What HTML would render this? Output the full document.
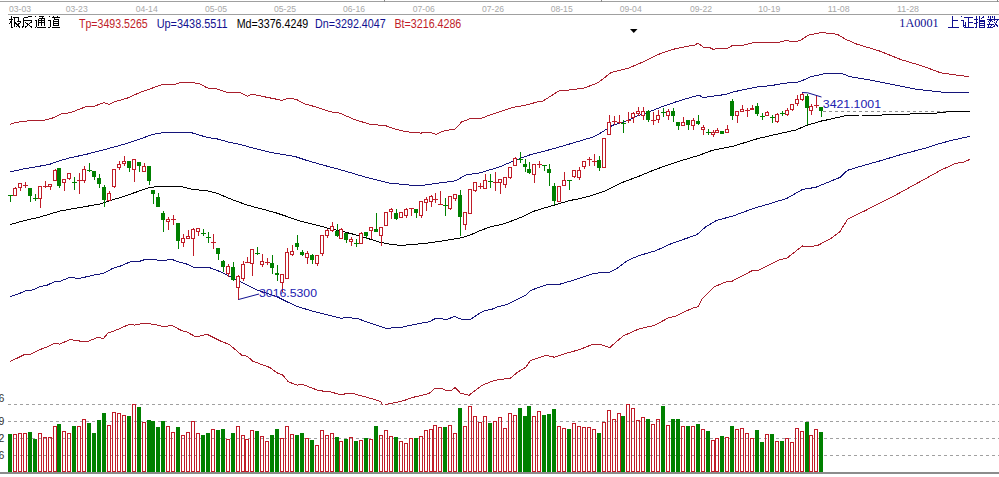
<!DOCTYPE html>
<html><head><meta charset="utf-8"><style>
html,body{margin:0;padding:0;background:#fff;width:999px;height:477px;overflow:hidden}
svg{display:block}
</style></head><body>
<svg width="999" height="477" viewBox="0 0 999 477"><defs><clipPath id="main"><rect x="0" y="15" width="999" height="390"/></clipPath></defs><rect width="999" height="477" fill="#fff"/><g shape-rendering="crispEdges"><rect x="0" y="1" width="999" height="1" fill="#a0a0a0"/><rect x="8" y="14" width="991" height="1" fill="#a0a0a0"/><rect x="384" y="0" width="1" height="2" fill="#888"/><rect x="601" y="0" width="1" height="2" fill="#888"/><rect x="997" y="0" width="1" height="2" fill="#888"/></g><g font-family="Liberation Sans, sans-serif" font-size="9.5" fill="#a8a8a8"><text x="9" y="11.6" textLength="22" lengthAdjust="spacingAndGlyphs">03-03</text><text x="65.7" y="11.6" textLength="22" lengthAdjust="spacingAndGlyphs">03-23</text><text x="135.7" y="11.6" textLength="22" lengthAdjust="spacingAndGlyphs">04-14</text><text x="205" y="11.6" textLength="22" lengthAdjust="spacingAndGlyphs">05-05</text><text x="274" y="11.6" textLength="22" lengthAdjust="spacingAndGlyphs">05-25</text><text x="343" y="11.6" textLength="22" lengthAdjust="spacingAndGlyphs">06-16</text><text x="412.8" y="11.6" textLength="22" lengthAdjust="spacingAndGlyphs">07-06</text><text x="482" y="11.6" textLength="22" lengthAdjust="spacingAndGlyphs">07-26</text><text x="550.7" y="11.6" textLength="22" lengthAdjust="spacingAndGlyphs">08-15</text><text x="619.7" y="11.6" textLength="22" lengthAdjust="spacingAndGlyphs">09-04</text><text x="690" y="11.6" textLength="22" lengthAdjust="spacingAndGlyphs">09-22</text><text x="758.3" y="11.6" textLength="22" lengthAdjust="spacingAndGlyphs">10-19</text><text x="827.7" y="11.6" textLength="22" lengthAdjust="spacingAndGlyphs">11-08</text><text x="897" y="11.6" textLength="22" lengthAdjust="spacingAndGlyphs">11-28</text></g><g font-family="Liberation Sans, sans-serif" font-size="12"><text x="79" y="27.8" fill="#c01c28" textLength="68.7" lengthAdjust="spacingAndGlyphs">Tp=3493.5265</text><text x="156.7" y="27.8" fill="#101090" textLength="71.0" lengthAdjust="spacingAndGlyphs">Up=3438.5511</text><text x="236.7" y="27.8" fill="#000000" textLength="71.6" lengthAdjust="spacingAndGlyphs">Md=3376.4249</text><text x="315" y="27.8" fill="#101090" textLength="70.7" lengthAdjust="spacingAndGlyphs">Dn=3292.4047</text><text x="394.5" y="27.8" fill="#c01c28" textLength="66.8" lengthAdjust="spacingAndGlyphs">Bt=3216.4286</text></g><text x="899.3" y="26.8" font-family="Liberation Serif, serif" font-size="12.5" fill="#101090" textLength="39.3" lengthAdjust="spacingAndGlyphs">1A0001</text><path d="M630,29 L637.5,29 L633.75,33 Z" fill="#000"/><g shape-rendering="crispEdges" stroke="#a0a0a0" stroke-width="1" stroke-dasharray="3,3"><line x1="8" y1="404.5" x2="999" y2="404.5"/><line x1="8" y1="421.5" x2="999" y2="421.5"/><line x1="8" y1="438.5" x2="999" y2="438.5"/><line x1="8" y1="455.5" x2="999" y2="455.5"/></g><g font-family="Liberation Sans, sans-serif" font-size="10.5" fill="#303030"><text x="-1.5" y="401.5">6</text><text x="-1.5" y="424.5">9</text><text x="-1.5" y="441.5">2</text><text x="-1.5" y="458.5">6</text></g><g shape-rendering="crispEdges"><rect x="8" y="434" width="4" height="38" fill="#008000"/><rect x="13.5" y="434.5" width="3" height="37" fill="none" stroke="#c01c28" stroke-width="1"/><rect x="18.5" y="433.5" width="3" height="38" fill="none" stroke="#c01c28" stroke-width="1"/><rect x="23.5" y="433.5" width="3" height="38" fill="none" stroke="#c01c28" stroke-width="1"/><rect x="28" y="432" width="4" height="40" fill="#008000"/><rect x="33" y="439" width="4" height="33" fill="#008000"/><rect x="38.5" y="433.5" width="3" height="38" fill="none" stroke="#c01c28" stroke-width="1"/><rect x="43.5" y="437.5" width="3" height="34" fill="none" stroke="#c01c28" stroke-width="1"/><rect x="48.5" y="437.5" width="3" height="34" fill="none" stroke="#c01c28" stroke-width="1"/><rect x="53.5" y="426.5" width="3" height="45" fill="none" stroke="#c01c28" stroke-width="1"/><rect x="57" y="424" width="4" height="48" fill="#008000"/><rect x="62.5" y="431.5" width="3" height="40" fill="none" stroke="#c01c28" stroke-width="1"/><rect x="67.5" y="433.5" width="3" height="38" fill="none" stroke="#c01c28" stroke-width="1"/><rect x="72" y="426" width="4" height="46" fill="#008000"/><rect x="77.5" y="426.5" width="3" height="45" fill="none" stroke="#c01c28" stroke-width="1"/><rect x="82.5" y="419.5" width="3" height="52" fill="none" stroke="#c01c28" stroke-width="1"/><rect x="87" y="423" width="4" height="49" fill="#008000"/><rect x="92" y="433" width="4" height="39" fill="#008000"/><rect x="97" y="420" width="4" height="52" fill="#008000"/><rect x="102" y="413" width="4" height="59" fill="#008000"/><rect x="107.5" y="425.5" width="3" height="46" fill="none" stroke="#c01c28" stroke-width="1"/><rect x="112.5" y="412.5" width="3" height="59" fill="none" stroke="#c01c28" stroke-width="1"/><rect x="117.5" y="413.5" width="3" height="58" fill="none" stroke="#c01c28" stroke-width="1"/><rect x="122.5" y="415.5" width="3" height="56" fill="none" stroke="#c01c28" stroke-width="1"/><rect x="127" y="416" width="4" height="56" fill="#008000"/><rect x="132.5" y="404.5" width="3" height="67" fill="none" stroke="#c01c28" stroke-width="1"/><rect x="137" y="407" width="4" height="65" fill="#008000"/><rect x="142.5" y="422.5" width="3" height="49" fill="none" stroke="#c01c28" stroke-width="1"/><rect x="147" y="420" width="4" height="52" fill="#008000"/><rect x="151" y="421" width="4" height="51" fill="#008000"/><rect x="156" y="427" width="4" height="45" fill="#008000"/><rect x="161" y="421" width="4" height="51" fill="#008000"/><rect x="166.5" y="426.5" width="3" height="45" fill="none" stroke="#c01c28" stroke-width="1"/><rect x="171.5" y="432.5" width="3" height="39" fill="none" stroke="#c01c28" stroke-width="1"/><rect x="176" y="427" width="4" height="45" fill="#008000"/><rect x="181.5" y="435.5" width="3" height="36" fill="none" stroke="#c01c28" stroke-width="1"/><rect x="186.5" y="432.5" width="3" height="39" fill="none" stroke="#c01c28" stroke-width="1"/><rect x="191.5" y="421.5" width="3" height="50" fill="none" stroke="#c01c28" stroke-width="1"/><rect x="196.5" y="433.5" width="3" height="38" fill="none" stroke="#c01c28" stroke-width="1"/><rect x="201" y="435" width="4" height="37" fill="#008000"/><rect x="206" y="433" width="4" height="39" fill="#008000"/><rect x="211.5" y="429.5" width="3" height="42" fill="none" stroke="#c01c28" stroke-width="1"/><rect x="216" y="430" width="4" height="42" fill="#008000"/><rect x="221" y="429" width="4" height="43" fill="#008000"/><rect x="226.5" y="439.5" width="3" height="32" fill="none" stroke="#c01c28" stroke-width="1"/><rect x="231" y="433" width="4" height="39" fill="#008000"/><rect x="236.5" y="426.5" width="3" height="45" fill="none" stroke="#c01c28" stroke-width="1"/><rect x="241.5" y="435.5" width="3" height="36" fill="none" stroke="#c01c28" stroke-width="1"/><rect x="245.5" y="439.5" width="3" height="32" fill="none" stroke="#c01c28" stroke-width="1"/><rect x="250.5" y="430.5" width="3" height="41" fill="none" stroke="#c01c28" stroke-width="1"/><rect x="255" y="431" width="4" height="41" fill="#008000"/><rect x="260.5" y="436.5" width="3" height="35" fill="none" stroke="#c01c28" stroke-width="1"/><rect x="265.5" y="441.5" width="3" height="30" fill="none" stroke="#c01c28" stroke-width="1"/><rect x="270" y="435" width="4" height="37" fill="#008000"/><rect x="275" y="429" width="4" height="43" fill="#008000"/><rect x="280.5" y="438.5" width="3" height="33" fill="none" stroke="#c01c28" stroke-width="1"/><rect x="285.5" y="426.5" width="3" height="45" fill="none" stroke="#c01c28" stroke-width="1"/><rect x="290.5" y="434.5" width="3" height="37" fill="none" stroke="#c01c28" stroke-width="1"/><rect x="295" y="435" width="4" height="37" fill="#008000"/><rect x="300" y="433" width="4" height="39" fill="#008000"/><rect x="305.5" y="438.5" width="3" height="33" fill="none" stroke="#c01c28" stroke-width="1"/><rect x="310" y="440" width="4" height="32" fill="#008000"/><rect x="315.5" y="445.5" width="3" height="26" fill="none" stroke="#c01c28" stroke-width="1"/><rect x="320.5" y="430.5" width="3" height="41" fill="none" stroke="#c01c28" stroke-width="1"/><rect x="325.5" y="435.5" width="3" height="36" fill="none" stroke="#c01c28" stroke-width="1"/><rect x="330.5" y="433.5" width="3" height="38" fill="none" stroke="#c01c28" stroke-width="1"/><rect x="335" y="437" width="4" height="35" fill="#008000"/><rect x="339.5" y="441.5" width="3" height="30" fill="none" stroke="#c01c28" stroke-width="1"/><rect x="344" y="439" width="4" height="33" fill="#008000"/><rect x="349.5" y="437.5" width="3" height="34" fill="none" stroke="#c01c28" stroke-width="1"/><rect x="354" y="441" width="4" height="31" fill="#008000"/><rect x="359.5" y="440.5" width="3" height="31" fill="none" stroke="#c01c28" stroke-width="1"/><rect x="364" y="438" width="4" height="34" fill="#008000"/><rect x="369.5" y="439.5" width="3" height="32" fill="none" stroke="#c01c28" stroke-width="1"/><rect x="374" y="426" width="4" height="46" fill="#008000"/><rect x="379.5" y="435.5" width="3" height="36" fill="none" stroke="#c01c28" stroke-width="1"/><rect x="384.5" y="430.5" width="3" height="41" fill="none" stroke="#c01c28" stroke-width="1"/><rect x="389.5" y="436.5" width="3" height="35" fill="none" stroke="#c01c28" stroke-width="1"/><rect x="394" y="437" width="4" height="35" fill="#008000"/><rect x="399.5" y="441.5" width="3" height="30" fill="none" stroke="#c01c28" stroke-width="1"/><rect x="404.5" y="443.5" width="3" height="28" fill="none" stroke="#c01c28" stroke-width="1"/><rect x="409.5" y="438.5" width="3" height="33" fill="none" stroke="#c01c28" stroke-width="1"/><rect x="414" y="438" width="4" height="34" fill="#008000"/><rect x="419.5" y="436.5" width="3" height="35" fill="none" stroke="#c01c28" stroke-width="1"/><rect x="424.5" y="430.5" width="3" height="41" fill="none" stroke="#c01c28" stroke-width="1"/><rect x="429.5" y="429.5" width="3" height="42" fill="none" stroke="#c01c28" stroke-width="1"/><rect x="433.5" y="425.5" width="3" height="46" fill="none" stroke="#c01c28" stroke-width="1"/><rect x="438.5" y="427.5" width="3" height="44" fill="none" stroke="#c01c28" stroke-width="1"/><rect x="443" y="427" width="4" height="45" fill="#008000"/><rect x="448.5" y="425.5" width="3" height="46" fill="none" stroke="#c01c28" stroke-width="1"/><rect x="453.5" y="433.5" width="3" height="38" fill="none" stroke="#c01c28" stroke-width="1"/><rect x="458" y="408" width="4" height="64" fill="#008000"/><rect x="463.5" y="426.5" width="3" height="45" fill="none" stroke="#c01c28" stroke-width="1"/><rect x="468.5" y="406.5" width="3" height="65" fill="none" stroke="#c01c28" stroke-width="1"/><rect x="473.5" y="416.5" width="3" height="55" fill="none" stroke="#c01c28" stroke-width="1"/><rect x="478.5" y="422.5" width="3" height="49" fill="none" stroke="#c01c28" stroke-width="1"/><rect x="483.5" y="416.5" width="3" height="55" fill="none" stroke="#c01c28" stroke-width="1"/><rect x="488" y="423" width="4" height="49" fill="#008000"/><rect x="493.5" y="421.5" width="3" height="50" fill="none" stroke="#c01c28" stroke-width="1"/><rect x="498.5" y="417.5" width="3" height="54" fill="none" stroke="#c01c28" stroke-width="1"/><rect x="503.5" y="428.5" width="3" height="43" fill="none" stroke="#c01c28" stroke-width="1"/><rect x="508.5" y="413.5" width="3" height="58" fill="none" stroke="#c01c28" stroke-width="1"/><rect x="513.5" y="415.5" width="3" height="56" fill="none" stroke="#c01c28" stroke-width="1"/><rect x="518" y="408" width="4" height="64" fill="#008000"/><rect x="523" y="416" width="4" height="56" fill="#008000"/><rect x="527" y="406" width="4" height="66" fill="#008000"/><rect x="532.5" y="416.5" width="3" height="55" fill="none" stroke="#c01c28" stroke-width="1"/><rect x="537.5" y="411.5" width="3" height="60" fill="none" stroke="#c01c28" stroke-width="1"/><rect x="542" y="415" width="4" height="57" fill="#008000"/><rect x="547" y="414" width="4" height="58" fill="#008000"/><rect x="552" y="409" width="4" height="63" fill="#008000"/><rect x="557.5" y="426.5" width="3" height="45" fill="none" stroke="#c01c28" stroke-width="1"/><rect x="562.5" y="428.5" width="3" height="43" fill="none" stroke="#c01c28" stroke-width="1"/><rect x="567" y="429" width="4" height="43" fill="#008000"/><rect x="572.5" y="423.5" width="3" height="48" fill="none" stroke="#c01c28" stroke-width="1"/><rect x="577.5" y="426.5" width="3" height="45" fill="none" stroke="#c01c28" stroke-width="1"/><rect x="582.5" y="427.5" width="3" height="44" fill="none" stroke="#c01c28" stroke-width="1"/><rect x="587.5" y="427.5" width="3" height="44" fill="none" stroke="#c01c28" stroke-width="1"/><rect x="592.5" y="429.5" width="3" height="42" fill="none" stroke="#c01c28" stroke-width="1"/><rect x="597" y="433" width="4" height="39" fill="#008000"/><rect x="602.5" y="422.5" width="3" height="49" fill="none" stroke="#c01c28" stroke-width="1"/><rect x="607.5" y="410.5" width="3" height="61" fill="none" stroke="#c01c28" stroke-width="1"/><rect x="612.5" y="419.5" width="3" height="52" fill="none" stroke="#c01c28" stroke-width="1"/><rect x="617.5" y="413.5" width="3" height="58" fill="none" stroke="#c01c28" stroke-width="1"/><rect x="621" y="416" width="4" height="56" fill="#008000"/><rect x="626.5" y="404.5" width="3" height="67" fill="none" stroke="#c01c28" stroke-width="1"/><rect x="631.5" y="408.5" width="3" height="63" fill="none" stroke="#c01c28" stroke-width="1"/><rect x="636.5" y="420.5" width="3" height="51" fill="none" stroke="#c01c28" stroke-width="1"/><rect x="641.5" y="417.5" width="3" height="54" fill="none" stroke="#c01c28" stroke-width="1"/><rect x="646" y="419" width="4" height="53" fill="#008000"/><rect x="651.5" y="424.5" width="3" height="47" fill="none" stroke="#c01c28" stroke-width="1"/><rect x="656.5" y="419.5" width="3" height="52" fill="none" stroke="#c01c28" stroke-width="1"/><rect x="661" y="406" width="4" height="66" fill="#008000"/><rect x="666.5" y="425.5" width="3" height="46" fill="none" stroke="#c01c28" stroke-width="1"/><rect x="671" y="419" width="4" height="53" fill="#008000"/><rect x="676" y="419" width="4" height="53" fill="#008000"/><rect x="681.5" y="426.5" width="3" height="45" fill="none" stroke="#c01c28" stroke-width="1"/><rect x="686" y="426" width="4" height="46" fill="#008000"/><rect x="691.5" y="426.5" width="3" height="45" fill="none" stroke="#c01c28" stroke-width="1"/><rect x="696" y="424" width="4" height="48" fill="#008000"/><rect x="701.5" y="429.5" width="3" height="42" fill="none" stroke="#c01c28" stroke-width="1"/><rect x="706" y="431" width="4" height="41" fill="#008000"/><rect x="711.5" y="440.5" width="3" height="31" fill="none" stroke="#c01c28" stroke-width="1"/><rect x="715.5" y="438.5" width="3" height="33" fill="none" stroke="#c01c28" stroke-width="1"/><rect x="720" y="436" width="4" height="36" fill="#008000"/><rect x="725.5" y="437.5" width="3" height="34" fill="none" stroke="#c01c28" stroke-width="1"/><rect x="730" y="426" width="4" height="46" fill="#008000"/><rect x="735.5" y="429.5" width="3" height="42" fill="none" stroke="#c01c28" stroke-width="1"/><rect x="740.5" y="428.5" width="3" height="43" fill="none" stroke="#c01c28" stroke-width="1"/><rect x="745.5" y="433.5" width="3" height="38" fill="none" stroke="#c01c28" stroke-width="1"/><rect x="750.5" y="438.5" width="3" height="33" fill="none" stroke="#c01c28" stroke-width="1"/><rect x="755" y="430" width="4" height="42" fill="#008000"/><rect x="760" y="442" width="4" height="30" fill="#008000"/><rect x="765.5" y="434.5" width="3" height="37" fill="none" stroke="#c01c28" stroke-width="1"/><rect x="770" y="434" width="4" height="38" fill="#008000"/><rect x="775.5" y="441.5" width="3" height="30" fill="none" stroke="#c01c28" stroke-width="1"/><rect x="780" y="441" width="4" height="31" fill="#008000"/><rect x="785.5" y="438.5" width="3" height="33" fill="none" stroke="#c01c28" stroke-width="1"/><rect x="790.5" y="442.5" width="3" height="29" fill="none" stroke="#c01c28" stroke-width="1"/><rect x="795.5" y="428.5" width="3" height="43" fill="none" stroke="#c01c28" stroke-width="1"/><rect x="800.5" y="431.5" width="3" height="40" fill="none" stroke="#c01c28" stroke-width="1"/><rect x="805" y="422" width="4" height="50" fill="#008000"/><rect x="809.5" y="435.5" width="3" height="36" fill="none" stroke="#c01c28" stroke-width="1"/><rect x="814.5" y="429.5" width="3" height="42" fill="none" stroke="#c01c28" stroke-width="1"/><rect x="819" y="432" width="4" height="40" fill="#008000"/></g><rect x="0" y="472" width="999" height="2" fill="#8c8c8c" shape-rendering="crispEdges"/><g clip-path="url(#main)"><line x1="823" y1="111.5" x2="969" y2="111.5" stroke="#8c8c8c" stroke-dasharray="3,3" shape-rendering="crispEdges"/><polyline points="10.0,124.5 15.0,122.5 27.5,121.0 45.0,120.0 52.5,118.0 61.0,114.0 71.0,112.5 85.0,107.0 95.0,106.0 104.0,102.5 109.0,104.5 114.0,102.0 127.5,98.0 140.0,92.5 152.5,88.0 164.0,84.0 172.5,85.0 179.0,83.0 192.5,82.5 200.0,84.0 207.5,88.0 215.0,88.5 226.0,92.0 234.0,93.0 240.0,92.6 247.7,96.3 252.1,94.1 262.0,96.3 273.0,98.5 281.8,100.3 287.3,98.5 296.2,99.2 303.9,103.6 317.1,107.3 330.3,111.8 339.1,112.9 354.5,119.5 369.9,124.3 385.3,125.6 394.2,128.7 405.2,131.6 420.6,133.1 429.4,132.2 436.0,134.4 444.8,130.5 454.7,129.4 460.0,123.9 461.6,121.9 470.4,118.6 481.4,118.2 492.4,114.2 512.3,107.6 527.7,104.7 536.5,102.1 543.1,101.0 558.5,91.1 573.9,89.5 584.9,87.8 598.1,82.7 611.4,72.3 629.0,67.9 644.4,61.3 657.6,54.7 670.0,50.2 676.8,48.4 686.4,46.5 694.5,45.2 697.9,43.1 703.4,47.1 709.5,47.5 713.6,49.5 717.7,48.4 727.2,48.4 732.7,45.4 743.6,45.2 754.5,42.4 779.0,42.4 785.8,40.4 791.3,41.4 799.8,40.9 808.6,35.0 821.8,32.5 837.2,34.3 846.0,39.4 857.0,44.2 879.0,50.8 901.0,59.6 923.0,66.2 940.7,72.8 956.0,75.0 969.3,76.6" fill="none" stroke="#a81e2c" stroke-width="1" stroke-linejoin="round" shape-rendering="crispEdges"/><polyline points="10.0,172.0 23.0,169.0 38.0,166.5 50.0,164.2 58.0,161.3 69.0,158.0 75.0,156.8 87.5,154.0 105.0,149.5 125.0,144.0 140.0,139.0 152.5,134.5 164.0,132.5 180.0,132.5 192.5,133.0 207.5,137.5 217.5,139.0 230.0,142.5 240.0,144.3 251.0,147.6 268.6,152.0 284.0,154.7 295.0,156.5 306.1,160.2 322.0,164.8 344.0,170.7 366.1,177.3 388.1,182.9 410.1,185.1 420.0,185.8 432.1,184.0 455.8,180.8 465.2,175.1 479.7,172.9 499.6,166.9 513.5,160.9 529.5,155.0 545.0,151.0 566.2,145.0 592.4,137.2 600.0,133.4 612.6,125.3 625.2,121.5 637.7,115.8 650.3,111.4 662.9,106.4 675.5,102.0 688.0,98.2 698.8,95.1 703.2,97.6 711.4,96.4 725.2,94.5 732.7,92.0 745.3,89.4 757.9,86.9 770.5,85.7 785.6,83.1 795.0,82.5 799.8,81.6 810.8,76.8 826.2,73.3 841.6,73.3 850.4,76.8 872.5,80.5 894.5,84.9 916.5,89.3 942.9,92.2 969.3,92.2" fill="none" stroke="#14147a" stroke-width="1" stroke-linejoin="round" shape-rendering="crispEdges"/><polyline points="10.0,224.5 25.0,220.5 40.0,217.0 60.0,211.0 80.0,207.5 100.0,204.0 115.0,199.0 120.0,197.7 133.6,193.0 147.3,188.2 156.8,186.4 180.0,186.4 193.6,189.5 207.2,190.9 218.0,193.6 229.0,198.4 246.8,205.0 275.0,212.5 300.0,220.9 313.6,224.3 327.3,228.0 341.0,231.1 354.5,234.5 368.2,238.6 379.0,242.0 388.6,244.0 400.9,245.4 409.0,244.8 425.0,243.4 440.0,241.4 462.0,237.6 470.0,235.1 480.5,230.4 491.0,226.7 501.4,224.6 511.9,220.9 522.4,216.7 532.9,211.5 543.4,208.3 553.9,205.2 564.3,202.1 570.0,200.5 577.7,199.0 590.3,195.9 605.4,190.9 621.8,182.7 640.0,175.8 655.0,169.6 677.0,161.9 699.0,155.3 712.3,150.3 732.1,146.5 758.5,138.4 776.1,134.4 795.9,130.0 807.0,125.3 821.5,121.0 829.0,119.5 844.0,116.0 859.0,115.0 880.0,115.1 899.0,114.3 933.0,113.4 948.0,111.8 958.0,111.2 970.0,111.2" fill="none" stroke="#000000" stroke-width="1" stroke-linejoin="round" shape-rendering="crispEdges"/><polyline points="9.9,296.6 16.5,294.6 26.4,290.6 31.9,290.2 39.6,286.9 47.3,285.1 55.1,281.4 60.6,281.2 69.4,277.4 79.3,278.5 94.7,274.8 103.5,273.5 112.3,268.6 121.1,265.8 129.9,262.0 138.7,261.6 145.3,259.4 154.2,259.8 163.0,260.5 171.8,259.4 180.6,262.5 187.2,264.2 193.8,267.5 209.2,267.5 220.0,271.6 233.2,278.2 244.2,283.7 255.2,289.2 260.0,291.0 272.0,295.0 277.3,296.9 286.1,301.3 297.1,306.4 312.5,311.2 330.1,315.6 341.1,318.3 347.7,317.4 358.7,319.0 374.2,324.5 386.3,328.4 402.8,327.1 413.8,324.5 429.2,321.8 435.8,318.3 440.0,318.7 446.6,319.5 454.3,316.5 462.0,319.5 470.8,319.1 477.4,314.7 485.1,310.3 490.6,309.8 497.3,307.0 506.1,304.8 517.1,299.3 525.9,294.9 530.3,290.5 545.7,285.0 558.9,284.5 572.1,280.6 592.0,274.0 598.6,272.9 609.6,272.4 616.2,268.9 627.2,260.7 638.2,255.9 649.2,252.6 655.0,251.0 672.6,243.1 696.8,234.8 705.6,226.9 716.7,220.3 732.1,216.3 754.1,208.2 769.5,203.8 787.1,198.3 802.5,189.5 815.8,187.3 840.0,177.4 847.5,170.3 860.1,166.5 880.3,160.8 902.9,154.0 925.5,148.2 935.6,144.7 950.7,140.6 969.6,136.4" fill="none" stroke="#14147a" stroke-width="1" stroke-linejoin="round" shape-rendering="crispEdges"/><polyline points="9.9,361.4 16.5,358.5 25.3,354.1 29.7,354.6 39.6,349.7 47.3,346.9 55.1,343.1 59.5,344.2 70.5,339.4 77.1,340.9 88.1,341.4 96.9,337.6 103.5,338.3 107.9,333.2 116.7,329.9 129.9,324.0 134.3,325.1 144.2,323.3 154.2,324.4 163.0,326.6 171.8,325.5 181.7,330.6 187.2,332.1 196.0,337.0 207.0,334.3 220.0,340.8 228.8,344.3 234.3,348.7 242.0,355.3 247.5,356.4 253.0,361.3 269.5,367.4 277.3,372.9 282.8,375.1 288.3,381.8 297.1,385.1 302.6,384.4 316.9,389.9 323.5,391.2 330.1,391.7 341.1,395.0 346.6,393.4 354.3,393.9 371.9,398.7 380.8,401.6 383.5,407.0 386.3,404.4 402.8,400.9 413.8,397.2 429.2,393.4 435.2,388.2 440.9,388.2 446.5,390.8 450.7,390.8 455.2,387.5 460.4,393.2 469.0,395.3 480.0,386.8 484.0,384.3 495.1,380.3 510.5,378.1 517.1,372.6 525.9,367.1 530.3,360.5 545.7,355.4 554.5,357.2 567.7,352.8 578.7,349.9 592.0,344.6 600.8,344.6 609.6,347.7 622.8,336.2 638.2,329.2 655.0,325.2 668.2,317.9 674.8,316.4 692.4,308.2 697.9,306.9 702.3,298.8 714.5,286.7 727.7,281.2 732.1,281.2 751.9,270.8 758.5,270.1 778.3,260.2 787.1,258.0 802.5,245.9 809.2,247.0 818.0,245.3 831.2,238.2 840.0,231.6 843.3,226.1 847.5,219.4 865.2,210.6 890.3,198.0 915.5,184.2 940.6,170.3 955.7,163.3 963.3,162.3 969.6,159.5" fill="none" stroke="#a81e2c" stroke-width="1" stroke-linejoin="round" shape-rendering="crispEdges"/><g shape-rendering="crispEdges"><rect x="10" y="196" width="1" height="6" fill="#008000"/><rect x="8" y="195" width="5" height="1" fill="#008000"/><rect x="15" y="187" width="1" height="1" fill="#c01c28"/><rect x="13.5" y="188.5" width="3" height="7" fill="#fff" stroke="#c01c28" stroke-width="1"/><rect x="20" y="188" width="1" height="3" fill="#c01c28"/><rect x="18.5" y="183.5" width="3" height="4" fill="#fff" stroke="#c01c28" stroke-width="1"/><rect x="25" y="182" width="1" height="6" fill="#c01c28"/><rect x="23" y="185" width="5" height="1" fill="#c01c28"/><rect x="30" y="188" width="1" height="14" fill="#008000"/><rect x="28" y="188" width="4" height="8" fill="#008000"/><rect x="35" y="194" width="1" height="7" fill="#008000"/><rect x="33" y="198" width="5" height="1" fill="#008000"/><rect x="40" y="199" width="1" height="9" fill="#c01c28"/><rect x="38.5" y="186.5" width="3" height="12" fill="#fff" stroke="#c01c28" stroke-width="1"/><rect x="45" y="181" width="1" height="7" fill="#c01c28"/><rect x="43" y="186" width="5" height="1" fill="#c01c28"/><rect x="50" y="187" width="1" height="3" fill="#c01c28"/><rect x="48.5" y="184.5" width="3" height="2" fill="#fff" stroke="#c01c28" stroke-width="1"/><rect x="55" y="169" width="1" height="1" fill="#c01c28"/><rect x="53.5" y="170.5" width="3" height="10" fill="#fff" stroke="#c01c28" stroke-width="1"/><rect x="59" y="168" width="1" height="20" fill="#008000"/><rect x="57" y="168" width="4" height="18" fill="#008000"/><rect x="64" y="183" width="1" height="8" fill="#c01c28"/><rect x="62.5" y="179.5" width="3" height="3" fill="#fff" stroke="#c01c28" stroke-width="1"/><rect x="69" y="179" width="1" height="1" fill="#c01c28"/><rect x="67.5" y="173.5" width="3" height="5" fill="#fff" stroke="#c01c28" stroke-width="1"/><rect x="74" y="177" width="1" height="13" fill="#008000"/><rect x="72" y="182" width="5" height="1" fill="#008000"/><rect x="79" y="173" width="1" height="21" fill="#c01c28"/><rect x="77" y="180" width="5" height="1" fill="#c01c28"/><rect x="84" y="166" width="1" height="3" fill="#c01c28"/><rect x="84" y="181" width="1" height="2" fill="#c01c28"/><rect x="82.5" y="169.5" width="3" height="11" fill="#fff" stroke="#c01c28" stroke-width="1"/><rect x="89" y="163" width="1" height="9" fill="#008000"/><rect x="87" y="170" width="5" height="1" fill="#008000"/><rect x="94" y="171" width="1" height="9" fill="#008000"/><rect x="92" y="171" width="4" height="6" fill="#008000"/><rect x="99" y="174" width="1" height="14" fill="#008000"/><rect x="97" y="178" width="4" height="6" fill="#008000"/><rect x="104" y="185" width="1" height="22" fill="#008000"/><rect x="102" y="187" width="4" height="13" fill="#008000"/><rect x="109" y="191" width="1" height="2" fill="#c01c28"/><rect x="107.5" y="193.5" width="3" height="7" fill="#fff" stroke="#c01c28" stroke-width="1"/><rect x="114" y="187" width="1" height="1" fill="#c01c28"/><rect x="112.5" y="169.5" width="3" height="17" fill="#fff" stroke="#c01c28" stroke-width="1"/><rect x="119" y="161" width="1" height="3" fill="#c01c28"/><rect x="119" y="168" width="1" height="2" fill="#c01c28"/><rect x="117.5" y="164.5" width="3" height="3" fill="#fff" stroke="#c01c28" stroke-width="1"/><rect x="124" y="156" width="1" height="5" fill="#c01c28"/><rect x="124" y="164" width="1" height="2" fill="#c01c28"/><rect x="122.5" y="161.5" width="3" height="2" fill="#fff" stroke="#c01c28" stroke-width="1"/><rect x="129" y="161" width="1" height="11" fill="#008000"/><rect x="127" y="161" width="4" height="7" fill="#008000"/><rect x="134" y="170" width="1" height="12" fill="#c01c28"/><rect x="132.5" y="159.5" width="3" height="10" fill="#fff" stroke="#c01c28" stroke-width="1"/><rect x="139" y="162" width="1" height="10" fill="#008000"/><rect x="137" y="162" width="4" height="4" fill="#008000"/><rect x="144" y="163" width="1" height="3" fill="#c01c28"/><rect x="142.5" y="166.5" width="3" height="5" fill="#fff" stroke="#c01c28" stroke-width="1"/><rect x="149" y="166" width="1" height="19" fill="#008000"/><rect x="147" y="166" width="4" height="15" fill="#008000"/><rect x="153" y="190" width="1" height="14" fill="#008000"/><rect x="151" y="190" width="4" height="4" fill="#008000"/><rect x="158" y="193" width="1" height="14" fill="#008000"/><rect x="156" y="197" width="4" height="10" fill="#008000"/><rect x="163" y="211" width="1" height="21" fill="#008000"/><rect x="161" y="213" width="4" height="7" fill="#008000"/><rect x="168" y="217" width="1" height="2" fill="#c01c28"/><rect x="168" y="222" width="1" height="8" fill="#c01c28"/><rect x="166.5" y="219.5" width="3" height="2" fill="#fff" stroke="#c01c28" stroke-width="1"/><rect x="173" y="215" width="1" height="10" fill="#c01c28"/><rect x="171" y="219" width="5" height="1" fill="#c01c28"/><rect x="178" y="223" width="1" height="26" fill="#008000"/><rect x="176" y="223" width="4" height="18" fill="#008000"/><rect x="183" y="234" width="1" height="4" fill="#c01c28"/><rect x="183" y="243" width="1" height="4" fill="#c01c28"/><rect x="181.5" y="238.5" width="3" height="4" fill="#fff" stroke="#c01c28" stroke-width="1"/><rect x="188" y="230" width="1" height="6" fill="#c01c28"/><rect x="186.5" y="236.5" width="3" height="2" fill="#fff" stroke="#c01c28" stroke-width="1"/><rect x="193" y="228" width="1" height="1" fill="#c01c28"/><rect x="193" y="239" width="1" height="17" fill="#c01c28"/><rect x="191.5" y="229.5" width="3" height="9" fill="#fff" stroke="#c01c28" stroke-width="1"/><rect x="198" y="232" width="1" height="4" fill="#c01c28"/><rect x="196.5" y="228.5" width="3" height="3" fill="#fff" stroke="#c01c28" stroke-width="1"/><rect x="203" y="229" width="1" height="7" fill="#008000"/><rect x="201" y="233" width="5" height="1" fill="#008000"/><rect x="208" y="232" width="1" height="11" fill="#008000"/><rect x="206" y="237" width="5" height="1" fill="#008000"/><rect x="213" y="234" width="1" height="15" fill="#c01c28"/><rect x="211" y="242" width="5" height="1" fill="#c01c28"/><rect x="218" y="248" width="1" height="12" fill="#008000"/><rect x="216" y="248" width="4" height="6" fill="#008000"/><rect x="223" y="260" width="1" height="12" fill="#008000"/><rect x="221" y="261" width="4" height="6" fill="#008000"/><rect x="228" y="264" width="1" height="2" fill="#c01c28"/><rect x="228" y="274" width="1" height="3" fill="#c01c28"/><rect x="226.5" y="266.5" width="3" height="7" fill="#fff" stroke="#c01c28" stroke-width="1"/><rect x="233" y="262" width="1" height="19" fill="#008000"/><rect x="231" y="267" width="4" height="13" fill="#008000"/><rect x="238" y="275" width="1" height="1" fill="#c01c28"/><rect x="238" y="288" width="1" height="12" fill="#c01c28"/><rect x="236.5" y="276.5" width="3" height="11" fill="#fff" stroke="#c01c28" stroke-width="1"/><rect x="243" y="261" width="1" height="3" fill="#c01c28"/><rect x="243" y="279" width="1" height="2" fill="#c01c28"/><rect x="241.5" y="264.5" width="3" height="14" fill="#fff" stroke="#c01c28" stroke-width="1"/><rect x="247" y="257" width="1" height="5" fill="#c01c28"/><rect x="245" y="262" width="5" height="1" fill="#c01c28"/><rect x="252" y="264" width="1" height="12" fill="#c01c28"/><rect x="250.5" y="249.5" width="3" height="14" fill="#fff" stroke="#c01c28" stroke-width="1"/><rect x="257" y="247" width="1" height="8" fill="#008000"/><rect x="255" y="253" width="5" height="1" fill="#008000"/><rect x="262" y="254" width="1" height="7" fill="#c01c28"/><rect x="262" y="265" width="1" height="2" fill="#c01c28"/><rect x="260.5" y="261.5" width="3" height="3" fill="#fff" stroke="#c01c28" stroke-width="1"/><rect x="267" y="258" width="1" height="7" fill="#c01c28"/><rect x="265" y="262" width="5" height="1" fill="#c01c28"/><rect x="272" y="255" width="1" height="19" fill="#008000"/><rect x="270" y="263" width="4" height="5" fill="#008000"/><rect x="277" y="265" width="1" height="16" fill="#008000"/><rect x="275" y="273" width="4" height="2" fill="#008000"/><rect x="282" y="283" width="1" height="9" fill="#c01c28"/><rect x="280.5" y="274.5" width="3" height="8" fill="#fff" stroke="#c01c28" stroke-width="1"/><rect x="287" y="248" width="1" height="4" fill="#c01c28"/><rect x="285.5" y="252.5" width="3" height="26" fill="#fff" stroke="#c01c28" stroke-width="1"/><rect x="292" y="245" width="1" height="6" fill="#c01c28"/><rect x="292" y="255" width="1" height="1" fill="#c01c28"/><rect x="290.5" y="251.5" width="3" height="3" fill="#fff" stroke="#c01c28" stroke-width="1"/><rect x="297" y="235" width="1" height="15" fill="#008000"/><rect x="295" y="243" width="4" height="4" fill="#008000"/><rect x="302" y="250" width="1" height="6" fill="#008000"/><rect x="300" y="252" width="4" height="3" fill="#008000"/><rect x="307" y="251" width="1" height="2" fill="#c01c28"/><rect x="307" y="258" width="1" height="6" fill="#c01c28"/><rect x="305.5" y="253.5" width="3" height="4" fill="#fff" stroke="#c01c28" stroke-width="1"/><rect x="312" y="254" width="1" height="10" fill="#008000"/><rect x="310" y="255" width="4" height="5" fill="#008000"/><rect x="317" y="264" width="1" height="2" fill="#c01c28"/><rect x="315.5" y="255.5" width="3" height="8" fill="#fff" stroke="#c01c28" stroke-width="1"/><rect x="322" y="254" width="1" height="2" fill="#c01c28"/><rect x="320.5" y="235.5" width="3" height="18" fill="#fff" stroke="#c01c28" stroke-width="1"/><rect x="327" y="229" width="1" height="1" fill="#c01c28"/><rect x="327" y="236" width="1" height="2" fill="#c01c28"/><rect x="325.5" y="230.5" width="3" height="5" fill="#fff" stroke="#c01c28" stroke-width="1"/><rect x="332" y="222" width="1" height="4" fill="#c01c28"/><rect x="332" y="231" width="1" height="1" fill="#c01c28"/><rect x="330.5" y="226.5" width="3" height="4" fill="#fff" stroke="#c01c28" stroke-width="1"/><rect x="337" y="224" width="1" height="13" fill="#008000"/><rect x="335" y="231" width="4" height="5" fill="#008000"/><rect x="341" y="228" width="1" height="1" fill="#c01c28"/><rect x="339.5" y="229.5" width="3" height="9" fill="#fff" stroke="#c01c28" stroke-width="1"/><rect x="346" y="233" width="1" height="10" fill="#008000"/><rect x="344" y="233" width="4" height="7" fill="#008000"/><rect x="351" y="237" width="1" height="2" fill="#c01c28"/><rect x="351" y="242" width="1" height="4" fill="#c01c28"/><rect x="349.5" y="239.5" width="3" height="2" fill="#fff" stroke="#c01c28" stroke-width="1"/><rect x="356" y="239" width="1" height="8" fill="#008000"/><rect x="354" y="243" width="5" height="1" fill="#008000"/><rect x="361" y="232" width="1" height="1" fill="#c01c28"/><rect x="359.5" y="233.5" width="3" height="10" fill="#fff" stroke="#c01c28" stroke-width="1"/><rect x="366" y="232" width="1" height="7" fill="#008000"/><rect x="364" y="232" width="4" height="4" fill="#008000"/><rect x="371" y="231" width="1" height="8" fill="#c01c28"/><rect x="369.5" y="227.5" width="3" height="3" fill="#fff" stroke="#c01c28" stroke-width="1"/><rect x="376" y="213" width="1" height="19" fill="#008000"/><rect x="374" y="229" width="4" height="3" fill="#008000"/><rect x="381" y="236" width="1" height="10" fill="#c01c28"/><rect x="379.5" y="227.5" width="3" height="8" fill="#fff" stroke="#c01c28" stroke-width="1"/><rect x="384.5" y="212.5" width="3" height="13" fill="#fff" stroke="#c01c28" stroke-width="1"/><rect x="391" y="208" width="1" height="1" fill="#c01c28"/><rect x="391" y="212" width="1" height="7" fill="#c01c28"/><rect x="389.5" y="209.5" width="3" height="2" fill="#fff" stroke="#c01c28" stroke-width="1"/><rect x="396" y="209" width="1" height="11" fill="#008000"/><rect x="394" y="213" width="4" height="6" fill="#008000"/><rect x="399.5" y="212.5" width="3" height="5" fill="#fff" stroke="#c01c28" stroke-width="1"/><rect x="406" y="208" width="1" height="1" fill="#c01c28"/><rect x="406" y="216" width="1" height="2" fill="#c01c28"/><rect x="404.5" y="209.5" width="3" height="6" fill="#fff" stroke="#c01c28" stroke-width="1"/><rect x="411" y="208" width="1" height="8" fill="#c01c28"/><rect x="409" y="208" width="5" height="1" fill="#c01c28"/><rect x="416" y="209" width="1" height="9" fill="#008000"/><rect x="414" y="209" width="4" height="4" fill="#008000"/><rect x="421" y="216" width="1" height="2" fill="#c01c28"/><rect x="419.5" y="201.5" width="3" height="14" fill="#fff" stroke="#c01c28" stroke-width="1"/><rect x="426" y="197" width="1" height="2" fill="#c01c28"/><rect x="426" y="203" width="1" height="8" fill="#c01c28"/><rect x="424.5" y="199.5" width="3" height="3" fill="#fff" stroke="#c01c28" stroke-width="1"/><rect x="431" y="195" width="1" height="1" fill="#c01c28"/><rect x="431" y="202" width="1" height="5" fill="#c01c28"/><rect x="429.5" y="196.5" width="3" height="5" fill="#fff" stroke="#c01c28" stroke-width="1"/><rect x="435" y="193" width="1" height="10" fill="#c01c28"/><rect x="433" y="199" width="5" height="1" fill="#c01c28"/><rect x="440" y="191" width="1" height="13" fill="#c01c28"/><rect x="438" y="204" width="5" height="1" fill="#c01c28"/><rect x="445" y="198" width="1" height="18" fill="#008000"/><rect x="443" y="205" width="5" height="1" fill="#008000"/><rect x="450" y="209" width="1" height="1" fill="#c01c28"/><rect x="448.5" y="196.5" width="3" height="12" fill="#fff" stroke="#c01c28" stroke-width="1"/><rect x="455" y="199" width="1" height="2" fill="#c01c28"/><rect x="453.5" y="194.5" width="3" height="4" fill="#fff" stroke="#c01c28" stroke-width="1"/><rect x="460" y="190" width="1" height="46" fill="#008000"/><rect x="458" y="195" width="4" height="22" fill="#008000"/><rect x="465" y="225" width="1" height="5" fill="#c01c28"/><rect x="463.5" y="212.5" width="3" height="12" fill="#fff" stroke="#c01c28" stroke-width="1"/><rect x="468.5" y="189.5" width="3" height="24" fill="#fff" stroke="#c01c28" stroke-width="1"/><rect x="475" y="191" width="1" height="1" fill="#c01c28"/><rect x="473.5" y="182.5" width="3" height="8" fill="#fff" stroke="#c01c28" stroke-width="1"/><rect x="480" y="183" width="1" height="6" fill="#c01c28"/><rect x="478" y="186" width="5" height="1" fill="#c01c28"/><rect x="485" y="174" width="1" height="6" fill="#c01c28"/><rect x="483.5" y="180.5" width="3" height="8" fill="#fff" stroke="#c01c28" stroke-width="1"/><rect x="490" y="174" width="1" height="14" fill="#008000"/><rect x="488" y="181" width="5" height="1" fill="#008000"/><rect x="495" y="172" width="1" height="19" fill="#c01c28"/><rect x="493" y="182" width="5" height="1" fill="#c01c28"/><rect x="500" y="183" width="1" height="11" fill="#c01c28"/><rect x="498.5" y="179.5" width="3" height="3" fill="#fff" stroke="#c01c28" stroke-width="1"/><rect x="505" y="185" width="1" height="3" fill="#c01c28"/><rect x="503.5" y="177.5" width="3" height="7" fill="#fff" stroke="#c01c28" stroke-width="1"/><rect x="510" y="178" width="1" height="1" fill="#c01c28"/><rect x="508.5" y="167.5" width="3" height="10" fill="#fff" stroke="#c01c28" stroke-width="1"/><rect x="515" y="157" width="1" height="1" fill="#c01c28"/><rect x="513.5" y="158.5" width="3" height="7" fill="#fff" stroke="#c01c28" stroke-width="1"/><rect x="520" y="152" width="1" height="11" fill="#008000"/><rect x="518" y="159" width="5" height="1" fill="#008000"/><rect x="525" y="159" width="1" height="13" fill="#008000"/><rect x="523" y="164" width="4" height="3" fill="#008000"/><rect x="529" y="162" width="1" height="12" fill="#008000"/><rect x="527" y="169" width="4" height="4" fill="#008000"/><rect x="534" y="175" width="1" height="8" fill="#c01c28"/><rect x="532.5" y="164.5" width="3" height="10" fill="#fff" stroke="#c01c28" stroke-width="1"/><rect x="539" y="161" width="1" height="7" fill="#c01c28"/><rect x="537" y="164" width="5" height="1" fill="#c01c28"/><rect x="544" y="165" width="1" height="6" fill="#008000"/><rect x="542" y="165" width="5" height="1" fill="#008000"/><rect x="549" y="164" width="1" height="22" fill="#008000"/><rect x="547" y="169" width="4" height="4" fill="#008000"/><rect x="554" y="183" width="1" height="22" fill="#008000"/><rect x="552" y="186" width="4" height="15" fill="#008000"/><rect x="557.5" y="186.5" width="3" height="15" fill="#fff" stroke="#c01c28" stroke-width="1"/><rect x="564" y="172" width="1" height="8" fill="#c01c28"/><rect x="562.5" y="180.5" width="3" height="5" fill="#fff" stroke="#c01c28" stroke-width="1"/><rect x="569" y="180" width="1" height="10" fill="#008000"/><rect x="567" y="180" width="5" height="1" fill="#008000"/><rect x="574" y="177" width="1" height="1" fill="#c01c28"/><rect x="572.5" y="170.5" width="3" height="6" fill="#fff" stroke="#c01c28" stroke-width="1"/><rect x="579" y="167" width="1" height="3" fill="#c01c28"/><rect x="579" y="178" width="1" height="2" fill="#c01c28"/><rect x="577.5" y="170.5" width="3" height="7" fill="#fff" stroke="#c01c28" stroke-width="1"/><rect x="584" y="167" width="1" height="2" fill="#c01c28"/><rect x="582.5" y="161.5" width="3" height="5" fill="#fff" stroke="#c01c28" stroke-width="1"/><rect x="589" y="157" width="1" height="9" fill="#c01c28"/><rect x="587" y="159" width="5" height="1" fill="#c01c28"/><rect x="594" y="154" width="1" height="12" fill="#c01c28"/><rect x="592" y="161" width="5" height="1" fill="#c01c28"/><rect x="599" y="156" width="1" height="15" fill="#008000"/><rect x="597" y="160" width="4" height="8" fill="#008000"/><rect x="602.5" y="138.5" width="3" height="29" fill="#fff" stroke="#c01c28" stroke-width="1"/><rect x="609" y="115" width="1" height="7" fill="#c01c28"/><rect x="607.5" y="122.5" width="3" height="12" fill="#fff" stroke="#c01c28" stroke-width="1"/><rect x="614" y="116" width="1" height="9" fill="#c01c28"/><rect x="612" y="121" width="5" height="1" fill="#c01c28"/><rect x="619" y="115" width="1" height="9" fill="#c01c28"/><rect x="617" y="122" width="5" height="1" fill="#c01c28"/><rect x="623" y="120" width="1" height="13" fill="#008000"/><rect x="621" y="123" width="5" height="1" fill="#008000"/><rect x="628" y="112" width="1" height="11" fill="#c01c28"/><rect x="626" y="120" width="5" height="1" fill="#c01c28"/><rect x="633" y="112" width="1" height="1" fill="#c01c28"/><rect x="633" y="118" width="1" height="5" fill="#c01c28"/><rect x="631.5" y="113.5" width="3" height="4" fill="#fff" stroke="#c01c28" stroke-width="1"/><rect x="638" y="107" width="1" height="4" fill="#c01c28"/><rect x="638" y="114" width="1" height="2" fill="#c01c28"/><rect x="636.5" y="111.5" width="3" height="2" fill="#fff" stroke="#c01c28" stroke-width="1"/><rect x="643" y="107" width="1" height="4" fill="#c01c28"/><rect x="643" y="116" width="1" height="4" fill="#c01c28"/><rect x="641.5" y="111.5" width="3" height="4" fill="#fff" stroke="#c01c28" stroke-width="1"/><rect x="648" y="110" width="1" height="12" fill="#008000"/><rect x="646" y="111" width="4" height="9" fill="#008000"/><rect x="653" y="112" width="1" height="13" fill="#c01c28"/><rect x="651" y="120" width="5" height="1" fill="#c01c28"/><rect x="658" y="110" width="1" height="5" fill="#c01c28"/><rect x="658" y="120" width="1" height="3" fill="#c01c28"/><rect x="656.5" y="115.5" width="3" height="4" fill="#fff" stroke="#c01c28" stroke-width="1"/><rect x="663" y="108" width="1" height="9" fill="#008000"/><rect x="661" y="112" width="5" height="1" fill="#008000"/><rect x="668" y="109" width="1" height="2" fill="#c01c28"/><rect x="668" y="116" width="1" height="4" fill="#c01c28"/><rect x="666.5" y="111.5" width="3" height="4" fill="#fff" stroke="#c01c28" stroke-width="1"/><rect x="673" y="108" width="1" height="14" fill="#008000"/><rect x="671" y="111" width="4" height="5" fill="#008000"/><rect x="678" y="122" width="1" height="8" fill="#008000"/><rect x="676" y="122" width="4" height="4" fill="#008000"/><rect x="683" y="117" width="1" height="5" fill="#c01c28"/><rect x="681.5" y="122.5" width="3" height="3" fill="#fff" stroke="#c01c28" stroke-width="1"/><rect x="688" y="120" width="1" height="10" fill="#008000"/><rect x="686" y="120" width="4" height="5" fill="#008000"/><rect x="693" y="118" width="1" height="2" fill="#c01c28"/><rect x="693" y="126" width="1" height="4" fill="#c01c28"/><rect x="691.5" y="120.5" width="3" height="5" fill="#fff" stroke="#c01c28" stroke-width="1"/><rect x="698" y="115" width="1" height="10" fill="#008000"/><rect x="696" y="121" width="4" height="3" fill="#008000"/><rect x="703" y="125" width="1" height="2" fill="#c01c28"/><rect x="703" y="130" width="1" height="5" fill="#c01c28"/><rect x="701.5" y="127.5" width="3" height="2" fill="#fff" stroke="#c01c28" stroke-width="1"/><rect x="708" y="129" width="1" height="6" fill="#008000"/><rect x="706" y="132" width="5" height="1" fill="#008000"/><rect x="713" y="130" width="1" height="2" fill="#c01c28"/><rect x="713" y="135" width="1" height="2" fill="#c01c28"/><rect x="711.5" y="132.5" width="3" height="2" fill="#fff" stroke="#c01c28" stroke-width="1"/><rect x="717" y="128" width="1" height="2" fill="#c01c28"/><rect x="715.5" y="130.5" width="3" height="2" fill="#fff" stroke="#c01c28" stroke-width="1"/><rect x="722" y="131" width="1" height="3" fill="#008000"/><rect x="720" y="131" width="4" height="3" fill="#008000"/><rect x="727" y="125" width="1" height="4" fill="#c01c28"/><rect x="725.5" y="129.5" width="3" height="3" fill="#fff" stroke="#c01c28" stroke-width="1"/><rect x="732" y="99" width="1" height="21" fill="#008000"/><rect x="730" y="101" width="4" height="15" fill="#008000"/><rect x="737" y="116" width="1" height="7" fill="#c01c28"/><rect x="735.5" y="111.5" width="3" height="4" fill="#fff" stroke="#c01c28" stroke-width="1"/><rect x="742" y="105" width="1" height="4" fill="#c01c28"/><rect x="740.5" y="109.5" width="3" height="2" fill="#fff" stroke="#c01c28" stroke-width="1"/><rect x="747" y="108" width="1" height="9" fill="#c01c28"/><rect x="745" y="110" width="5" height="1" fill="#c01c28"/><rect x="752" y="105" width="1" height="3" fill="#c01c28"/><rect x="750.5" y="108.5" width="3" height="1" fill="#fff" stroke="#c01c28" stroke-width="1"/><rect x="757" y="103" width="1" height="13" fill="#008000"/><rect x="755" y="106" width="4" height="8" fill="#008000"/><rect x="762" y="113" width="1" height="7" fill="#008000"/><rect x="760" y="116" width="5" height="1" fill="#008000"/><rect x="767" y="111" width="1" height="1" fill="#c01c28"/><rect x="765.5" y="112.5" width="3" height="3" fill="#fff" stroke="#c01c28" stroke-width="1"/><rect x="772" y="115" width="1" height="8" fill="#008000"/><rect x="770" y="117" width="5" height="1" fill="#008000"/><rect x="777" y="113" width="1" height="1" fill="#c01c28"/><rect x="777" y="122" width="1" height="1" fill="#c01c28"/><rect x="775.5" y="114.5" width="3" height="7" fill="#fff" stroke="#c01c28" stroke-width="1"/><rect x="782" y="111" width="1" height="5" fill="#008000"/><rect x="780" y="113" width="5" height="1" fill="#008000"/><rect x="787" y="108" width="1" height="2" fill="#c01c28"/><rect x="787" y="115" width="1" height="1" fill="#c01c28"/><rect x="785.5" y="110.5" width="3" height="4" fill="#fff" stroke="#c01c28" stroke-width="1"/><rect x="792" y="110" width="1" height="1" fill="#c01c28"/><rect x="790.5" y="104.5" width="3" height="5" fill="#fff" stroke="#c01c28" stroke-width="1"/><rect x="797" y="95" width="1" height="4" fill="#c01c28"/><rect x="797" y="104" width="1" height="2" fill="#c01c28"/><rect x="795.5" y="99.5" width="3" height="4" fill="#fff" stroke="#c01c28" stroke-width="1"/><rect x="802" y="92" width="1" height="2" fill="#c01c28"/><rect x="802" y="100" width="1" height="1" fill="#c01c28"/><rect x="800.5" y="94.5" width="3" height="5" fill="#fff" stroke="#c01c28" stroke-width="1"/><rect x="807" y="94" width="1" height="31" fill="#008000"/><rect x="805" y="96" width="4" height="12" fill="#008000"/><rect x="811" y="104" width="1" height="2" fill="#c01c28"/><rect x="811" y="111" width="1" height="4" fill="#c01c28"/><rect x="809.5" y="106.5" width="3" height="4" fill="#fff" stroke="#c01c28" stroke-width="1"/><rect x="816" y="96" width="1" height="12" fill="#c01c28"/><rect x="814" y="105" width="5" height="1" fill="#c01c28"/><rect x="821" y="107" width="1" height="10" fill="#008000"/><rect x="819" y="107" width="4" height="4" fill="#008000"/></g><polyline points="238.5,299.5 259,294" fill="none" stroke="#101090" stroke-width="1"/><polyline points="802,92.5 807.7,92.8 821.5,97" fill="none" stroke="#101090" stroke-width="1"/><text x="259" y="296.8" font-family="Liberation Sans, sans-serif" font-size="11" fill="#2020b0" textLength="58" lengthAdjust="spacingAndGlyphs">3016.5300</text><text x="822.8" y="107.8" font-family="Liberation Sans, sans-serif" font-size="11" fill="#2020b0" textLength="58.2" lengthAdjust="spacingAndGlyphs">3421.1001</text></g><g fill="none" stroke-width="1" shape-rendering="crispEdges"><path d="M11.5,16 V27.5 H12.5 M9,19.5 H13 M11,21.5 L9,24 M13,17.5 H19 M14.5,17.5 V26 L13.5,27.5 M18.5,17.5 V20.5 L18,21.5 H20 V23 M19.5,23 L15.5,27.5 M15,22.5 L20,27.5 M28,16.5 H31.5 M23.5,17.5 H28 M23.5,17.5 V26 L22,27.5 M24,20.5 H31.5 V22 M31.5,22 L25,27.5 M25,22 L32,27.5 M35.5,16.5 L36.5,17.5 M35,20.5 H36.5 V26.5 L35,28 M37,27.5 H46 M38.5,16.5 H43.5 L41.5,18.5 M38.5,18.5 H44.5 V25.5 H43.5 M38.5,18.5 V26 M41.5,18.5 V26 M38.5,20.5 H44.5 M38.5,22.5 H44.5 M49.5,16.5 L50.5,17.5 M48,20.5 H50.5 V26.5 L48.5,28 M51.5,27.5 H59.5 M53,16 L53.8,17 M57.8,16 L57,17 M52,17.5 H59.5 M55.5,17.5 L54.5,19 M53.5,19.5 H58.5 V25.5 M53.5,19.5 V25.5 M53.5,21.5 H58.5 M53.5,23.5 H58.5 M53.5,25.5 H58.5" stroke="#000"/><path d="M952.5,16 V27.5 M952.5,20.5 H958 M948,27.5 H959 M961.5,16.5 L962.5,17.5 M961,20.5 H963.5 V26.5 L964.5,25.5 M964,17.5 H973 M964,27.5 H973.5 M968.5,17.5 V27.5 M965.5,21.5 V27.5 M968.5,22.5 H972.5 M974,19.5 H978 M976.5,16 V27.5 H975 M974,23.5 L978,22.5 M979.5,16 V20.5 H985 M981,18.5 L984.5,16.5 M979.5,21.5 H984.5 V27.5 H979.5 Z M979.5,23.5 H984.5 M979.5,25.5 H984.5 M988,16.5 L989,18 M993,16.5 L992,18 M990.5,16 V22 M987,19.5 H993.5 M990,20 L987.5,22.5 M991,20 L993,22 M987,24.5 H993.5 M990,22.5 L988,27.5 H993 M992.5,24.5 L990,27.5 M994.5,16 L994,21 M994.5,19.5 H998.5 M997.5,20 L993.5,27.5 M994.5,22.5 L998.5,27.5" stroke="#101090"/></g></svg>
</body></html>
